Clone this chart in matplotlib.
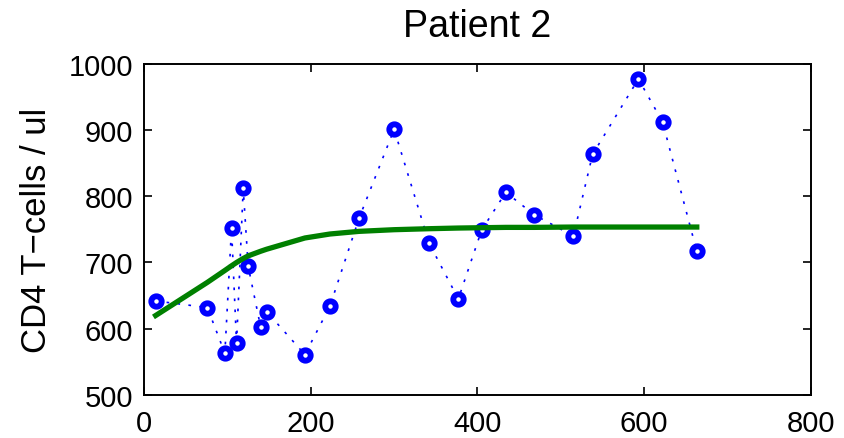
import matplotlib
matplotlib.use("Agg")
import matplotlib.pyplot as plt

plt.rcParams['font.family'] = ['Liberation Sans', 'DejaVu Sans']

days = [14, 76, 97, 105, 111, 119, 125, 140, 147, 193, 223, 258, 300, 342,
        377, 405, 434, 468, 515, 538, 593, 622, 663]
cd4 = [642, 632, 563, 752, 578, 812, 694, 602, 626, 561, 634, 767, 901, 729,
       645, 749, 806, 772, 740, 863, 977, 912, 717]
fit = [620, 670, 688, 695, 700, 706, 710, 717, 720, 737, 743, 747, 749.5, 751,
       752, 752.5, 753, 753, 753.5, 753.5, 753.5, 753.5, 753.5]

xticks = [0, 200, 400, 600, 800]
yticks = [500, 600, 700, 800, 900, 1000]

fig = plt.figure(figsize=(8.44, 4.39), dpi=100)
ax = fig.add_axes([0.1706, 0.0979, 0.9609 - 0.1706, 0.8526 - 0.0979])

ax.plot(days, cd4, linestyle=(0, (1.6, 5.0)), color='#0000ff', linewidth=1.2,
        marker='o', markersize=7.5, markerfacecolor='white',
        markeredgecolor='#0000ff', markeredgewidth=4.2, zorder=3)
ax.plot(days, fit, color='#008000', linewidth=3.8, zorder=4)

ax.set_xlim(0, 800)
ax.set_ylim(500, 1000)
ax.set_xticks(xticks)
ax.set_yticks(yticks)
ax.tick_params(direction='in', length=6, width=1.2, labelsize=21,
               top=True, right=True, pad=8)
ax.tick_params(axis='x', pad=10)
for s in ax.spines.values():
    s.set_linewidth(1.4)

ax.set_title('Patient 2', fontsize=27, pad=20)
ax.set_ylabel('CD4 T\u2212cells / ul', fontsize=25, labelpad=11)

fig.savefig('out.png', dpi=100)
